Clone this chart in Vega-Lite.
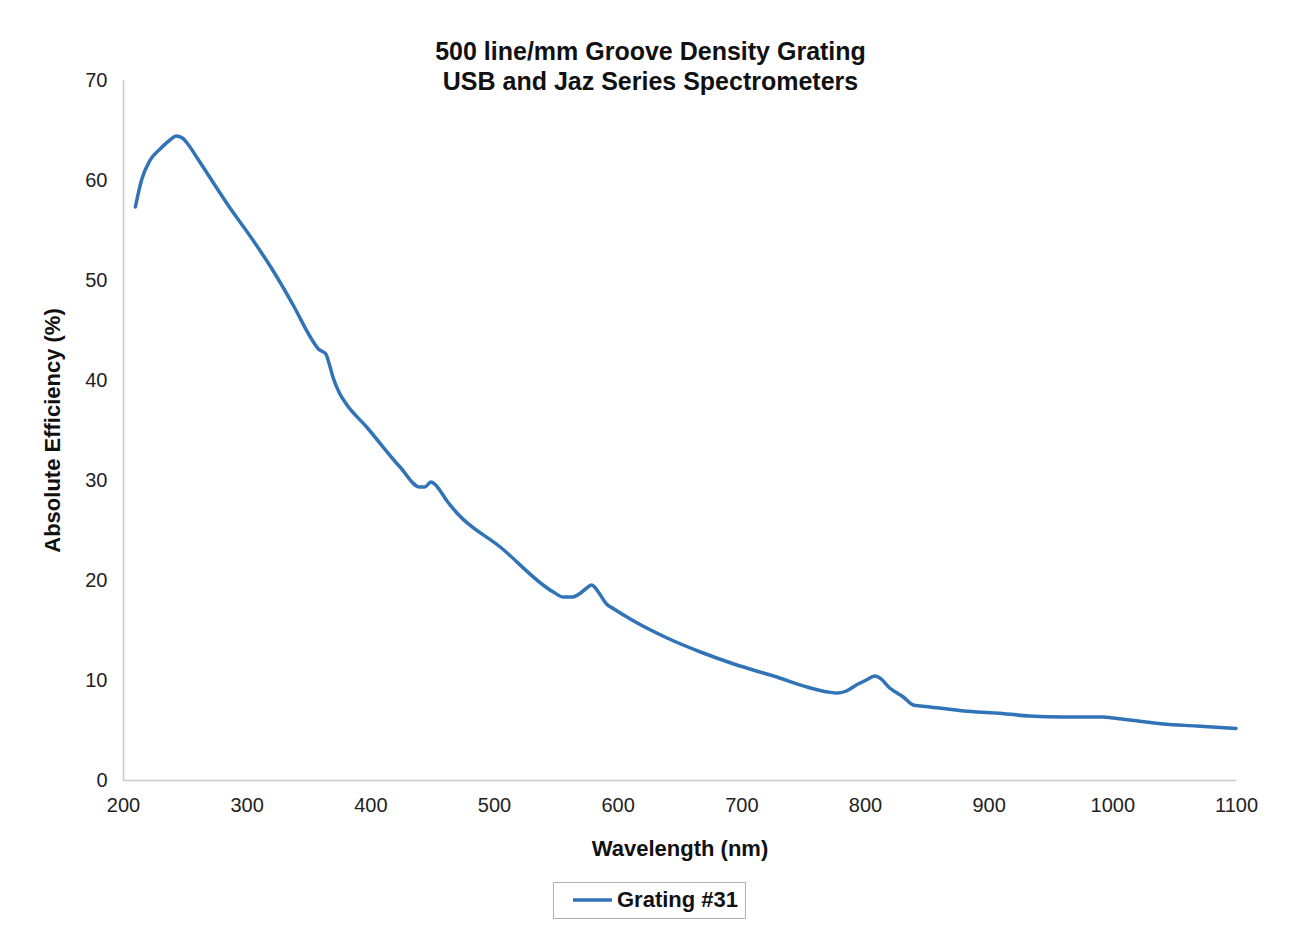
{
  "$schema": "https://vega.github.io/schema/vega-lite/v6.json",
  "width": 1113,
  "height": 700,
  "autosize": {"type": "none"},
  "padding": {"left": 123, "top": 80, "right": 60, "bottom": 165},
  "background": "white",
  "title": {
    "text": ["500 line/mm Groove Density Grating", "USB and Jaz Series Spectrometers"],
    "font": "Liberation Sans",
    "fontSize": 25,
    "fontWeight": "bold",
    "color": "#111111",
    "lineHeight": 30,
    "anchor": "middle",
    "frame": "group",
    "dx": -29,
    "offset": -25
  },
  "config": {
    "view": {"stroke": null},
    "font": "Liberation Sans"
  },
  "data": {
    "values": [
      {"nm": 210, "eff": 57.3, "series": "Grating #31"},
      {"nm": 215, "eff": 60.0, "series": "Grating #31"},
      {"nm": 222, "eff": 62.0, "series": "Grating #31"},
      {"nm": 230, "eff": 63.1, "series": "Grating #31"},
      {"nm": 238, "eff": 64.0, "series": "Grating #31"},
      {"nm": 243, "eff": 64.4, "series": "Grating #31"},
      {"nm": 248, "eff": 64.2, "series": "Grating #31"},
      {"nm": 253, "eff": 63.5, "series": "Grating #31"},
      {"nm": 260, "eff": 62.2, "series": "Grating #31"},
      {"nm": 286, "eff": 57.3, "series": "Grating #31"},
      {"nm": 305, "eff": 54.0, "series": "Grating #31"},
      {"nm": 321, "eff": 51.0, "series": "Grating #31"},
      {"nm": 338, "eff": 47.4, "series": "Grating #31"},
      {"nm": 351, "eff": 44.4, "series": "Grating #31"},
      {"nm": 358, "eff": 43.1, "series": "Grating #31"},
      {"nm": 364, "eff": 42.6, "series": "Grating #31"},
      {"nm": 367, "eff": 41.5, "series": "Grating #31"},
      {"nm": 370, "eff": 40.2, "series": "Grating #31"},
      {"nm": 375, "eff": 38.7, "series": "Grating #31"},
      {"nm": 380, "eff": 37.7, "series": "Grating #31"},
      {"nm": 397, "eff": 35.3, "series": "Grating #31"},
      {"nm": 424, "eff": 31.3, "series": "Grating #31"},
      {"nm": 440, "eff": 29.3, "series": "Grating #31"},
      {"nm": 444, "eff": 29.3, "series": "Grating #31"},
      {"nm": 449, "eff": 29.8, "series": "Grating #31"},
      {"nm": 452, "eff": 29.6, "series": "Grating #31"},
      {"nm": 456, "eff": 29.0, "series": "Grating #31"},
      {"nm": 462, "eff": 27.9, "series": "Grating #31"},
      {"nm": 470, "eff": 26.7, "series": "Grating #31"},
      {"nm": 505, "eff": 23.3, "series": "Grating #31"},
      {"nm": 548, "eff": 18.8, "series": "Grating #31"},
      {"nm": 556, "eff": 18.3, "series": "Grating #31"},
      {"nm": 563, "eff": 18.3, "series": "Grating #31"},
      {"nm": 570, "eff": 18.7, "series": "Grating #31"},
      {"nm": 575, "eff": 19.2, "series": "Grating #31"},
      {"nm": 579, "eff": 19.5, "series": "Grating #31"},
      {"nm": 582, "eff": 19.2, "series": "Grating #31"},
      {"nm": 586, "eff": 18.5, "series": "Grating #31"},
      {"nm": 591, "eff": 17.6, "series": "Grating #31"},
      {"nm": 597, "eff": 17.1, "series": "Grating #31"},
      {"nm": 613, "eff": 15.9, "series": "Grating #31"},
      {"nm": 640, "eff": 14.2, "series": "Grating #31"},
      {"nm": 667, "eff": 12.8, "series": "Grating #31"},
      {"nm": 694, "eff": 11.6, "series": "Grating #31"},
      {"nm": 715, "eff": 10.8, "series": "Grating #31"},
      {"nm": 726, "eff": 10.4, "series": "Grating #31"},
      {"nm": 753, "eff": 9.3, "series": "Grating #31"},
      {"nm": 770, "eff": 8.8, "series": "Grating #31"},
      {"nm": 778, "eff": 8.7, "series": "Grating #31"},
      {"nm": 785, "eff": 8.9, "series": "Grating #31"},
      {"nm": 793, "eff": 9.5, "series": "Grating #31"},
      {"nm": 801, "eff": 10.0, "series": "Grating #31"},
      {"nm": 808, "eff": 10.4, "series": "Grating #31"},
      {"nm": 812, "eff": 10.2, "series": "Grating #31"},
      {"nm": 820, "eff": 9.2, "series": "Grating #31"},
      {"nm": 831, "eff": 8.3, "series": "Grating #31"},
      {"nm": 839, "eff": 7.5, "series": "Grating #31"},
      {"nm": 845, "eff": 7.4, "series": "Grating #31"},
      {"nm": 860, "eff": 7.2, "series": "Grating #31"},
      {"nm": 880, "eff": 6.9, "series": "Grating #31"},
      {"nm": 906, "eff": 6.7, "series": "Grating #31"},
      {"nm": 933, "eff": 6.4, "series": "Grating #31"},
      {"nm": 960, "eff": 6.3, "series": "Grating #31"},
      {"nm": 993, "eff": 6.3, "series": "Grating #31"},
      {"nm": 1000, "eff": 6.2, "series": "Grating #31"},
      {"nm": 1014, "eff": 6.0, "series": "Grating #31"},
      {"nm": 1041, "eff": 5.6, "series": "Grating #31"},
      {"nm": 1068, "eff": 5.4, "series": "Grating #31"},
      {"nm": 1100, "eff": 5.15, "series": "Grating #31"}
    ]
  },
  "mark": {"type": "line", "interpolate": "monotone", "strokeWidth": 3.5, "strokeCap": "round"},
  "encoding": {
    "x": {
      "field": "nm",
      "type": "quantitative",
      "scale": {"domain": [200, 1100], "nice": false, "zero": false},
      "axis": {
        "title": "Wavelength (nm)",
        "values": [200, 300, 400, 500, 600, 700, 800, 900, 1000, 1100],
        "format": "d",
        "grid": false,
        "ticks": false,
        "tickSize": 0,
        "domainColor": "#c8c8c8",
        "domainWidth": 1.5,
        "labelFont": "Liberation Sans",
        "labelFontSize": 20,
        "labelColor": "#222222",
        "labelPadding": 15,
        "labelFlush": false,
        "labelOverlap": false,
        "titleFont": "Liberation Sans",
        "titleFontSize": 22,
        "titleFontWeight": "bold",
        "titleColor": "#111111",
        "titlePadding": 23
      }
    },
    "y": {
      "field": "eff",
      "type": "quantitative",
      "scale": {"domain": [0, 70], "nice": false},
      "axis": {
        "title": "Absolute Efficiency (%)",
        "values": [0, 10, 20, 30, 40, 50, 60, 70],
        "grid": false,
        "ticks": false,
        "tickSize": 0,
        "domainColor": "#c8c8c8",
        "domainWidth": 1.5,
        "labelFont": "Liberation Sans",
        "labelFontSize": 20,
        "labelColor": "#222222",
        "labelPadding": 16,
        "labelFlush": false,
        "labelOverlap": false,
        "titleFont": "Liberation Sans",
        "titleFontSize": 22,
        "titleFontWeight": "bold",
        "titleColor": "#111111",
        "titlePadding": 20
      }
    },
    "color": {
      "field": "series",
      "type": "nominal",
      "scale": {"domain": ["Grating #31"], "range": ["#3173b7"]},
      "legend": {
        "title": null,
        "orient": "none",
        "legendX": 430,
        "legendY": 802,
        "symbolType": "stroke",
        "symbolSize": 1521,
        "symbolStrokeWidth": 3.5,
        "symbolOffset": 12,
        "labelOffset": 3,
        "clipHeight": 24,
        "labelFont": "Liberation Sans",
        "labelFontSize": 22,
        "labelFontWeight": "bold",
        "labelColor": "#111111",
        "strokeColor": "#b0b0b0",
        "fillColor": "white",
        "padding": 6
      }
    }
  }
}
